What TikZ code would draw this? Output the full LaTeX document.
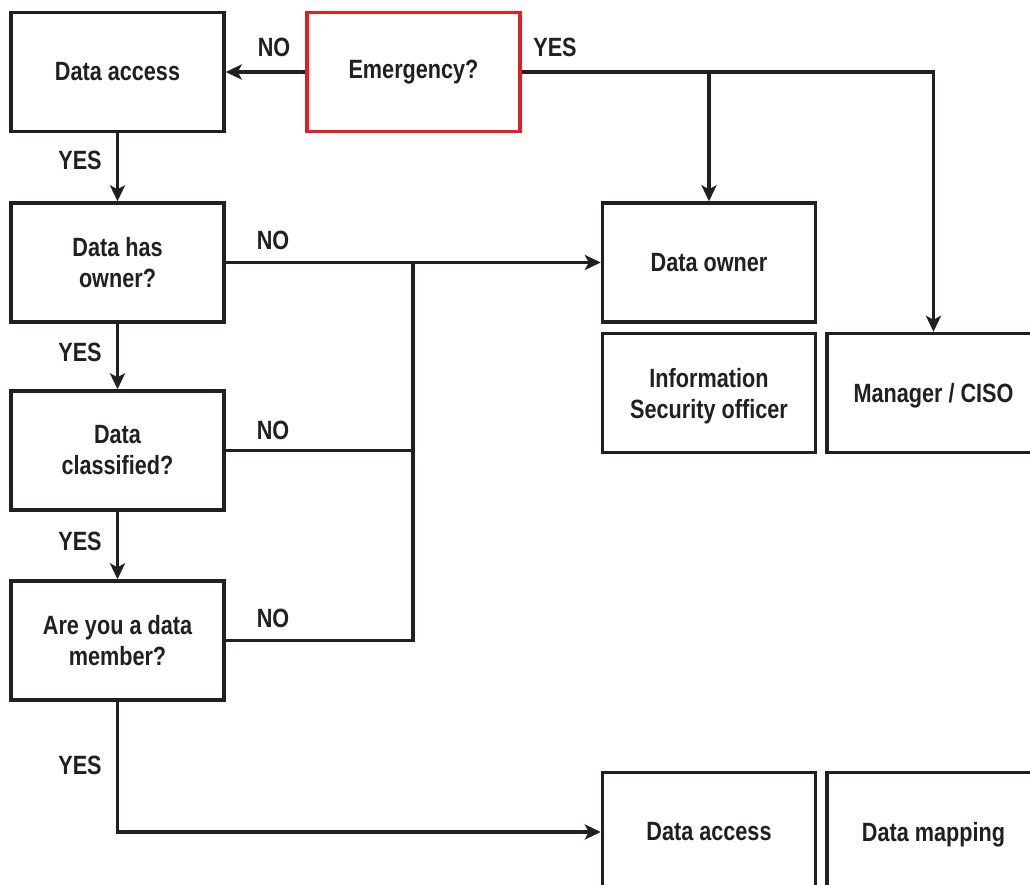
\documentclass[tikz,border=0pt]{standalone}
\usepackage{fontspec}
\setmainfont{Liberation Sans}[FakeStretch=0.82]
\usetikzlibrary{arrows.meta}
\definecolor{ink}{HTML}{231F20}
\definecolor{alert}{HTML}{E31E24}
\begin{document}
\begin{tikzpicture}[x=0.5pt,y=-0.5pt,
  every node/.style={font=\fontsize{13.2pt}{15.5pt}\selectfont\bfseries, text=ink},
  box/.style={draw=ink, line width=1.7pt, rectangle, inner sep=0pt,
    minimum width=106.5pt, minimum height=59.5pt, align=center},
  flat/.style={text depth=0pt},
  link/.style={draw=ink, line width=1.6pt},
  arr/.style={link, -{Stealth[length=8pt,width=7.5pt,inset=2pt]}},
  tag/.style={inner sep=0pt}]
\useasboundingbox (0,0) rectangle (1030,885);
\clip (0,0) rectangle (1030,885);
\fill[white] (0,0) rectangle (1030,885);

% decision column
\node[box] (da1) at (117.5,72) {Data access};
\node[box, draw=alert] (emg) at (413.5,72) {Emergency?};
\node[box] (own) at (117.5,262.5) {Data has\\owner?};
\node[box] (cls) at (117.5,450.5) {Data\\classified?};
\node[box] (mem) at (117.5,640.5) {Are you a data\\member?};

% right-hand targets
\node[box] (dow) at (709,262.5) {Data owner};
\node[box, flat] (iso) at (709,393) {Information\\Security officer};
\node[box, flat] (mgr) at (933.5,393) {Manager / CISO};
\node[box] (da2) at (709,832) {Data access};
\node[box, flat] (map) at (933.5,832) {Data mapping};

% emergency branches
\draw[arr] (emg.west) -- (da1.east);
\draw[arr] (emg.east) -| (mgr.north);
\draw[arr] (emg.east -| dow.north) -- (dow.north);
\node[tag] at (274,47) {NO};
\node[tag] at (555,47) {YES};

% YES chain
\draw[arr] (da1.south) -- (own.north);
\draw[arr] (own.south) -- (cls.north);
\draw[arr] (cls.south) -- (mem.north);
\draw[arr] (mem.south) |- (da2.west);
\node[tag] at (80,160) {YES};
\node[tag] at (80,352) {YES};
\node[tag] at (80,541) {YES};
\node[tag] at (80,765) {YES};

% NO bus to data owner
\coordinate (bus) at (413,640.5);
\draw[arr] (own.east) -- (dow.west);
\draw[link] (cls.east) -- (cls.east -| bus);
\draw[link] (mem.east) -- (bus) -- (bus |- own.east);
\node[tag] at (273,240) {NO};
\node[tag] at (273,430) {NO};
\node[tag] at (273,618) {NO};
\end{tikzpicture}
\end{document}
